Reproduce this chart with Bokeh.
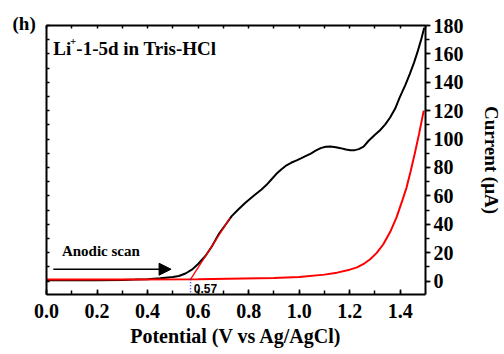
from bokeh.plotting import figure
from bokeh.models import (Range1d, LinearAxis, SingleIntervalTicker, Label, Arrow,
                          NormalHead, CustomJSTickFormatter, Title)
from bokeh.embed import file_html
from bokeh.resources import INLINE

# Anodic scan (black) : potential (V) vs current (uA)
black_x = [0.0, 0.1, 0.2, 0.3, 0.35, 0.4, 0.45, 0.5, 0.524, 0.55, 0.577, 0.6, 0.629, 0.655,
           0.681, 0.71, 0.733, 0.76, 0.786, 0.82, 0.851, 0.87, 0.89, 0.91, 0.929, 0.95,
           0.968, 0.99, 1.007, 1.025, 1.046, 1.065, 1.085, 1.105, 1.124, 1.145, 1.164,
           1.185, 1.203, 1.22, 1.236, 1.255, 1.275, 1.30, 1.32, 1.34, 1.36, 1.38, 1.398,
           1.42, 1.438, 1.455, 1.47, 1.482, 1.495]
black_y = [0.5, 0.5, 0.6, 0.8, 1.0, 1.3, 1.9, 2.8, 3.5, 5.3, 8.2, 12.0, 17.6, 24.5,
           32.8, 40.0, 45.7, 50.5, 55.0, 60.0, 64.5, 67.6, 71.5, 75.5, 78.6, 81.5,
           83.3, 85.0, 86.4, 88.0, 89.8, 91.8, 93.6, 94.6, 94.8, 94.3, 93.6,
           92.6, 92.2, 92.2, 92.9, 94.6, 98.8, 103.0, 106.2, 110.2, 115.2, 121.5, 129.4,
           138.0, 145.9, 154.0, 162.3, 169.5, 178.5]

# Background / second scan (red)
red_x = [0.0, 0.3, 0.6, 0.9, 1.0, 1.1, 1.15, 1.2, 1.229, 1.255, 1.281, 1.307, 1.333,
         1.36, 1.385, 1.405, 1.425, 1.44, 1.457, 1.475, 1.493]
red_y = [1.0, 1.1, 1.3, 2.2, 2.9, 4.5, 5.9, 8.0, 9.6, 12.0, 15.3, 19.8, 25.9,
         34.5, 44.7, 55.0, 65.8, 76.5, 89.4, 104.0, 120.0]

# Onset tangent
tangent_x = [0.57, 0.727]
tangent_y = [1.2, 44.6]
onset = 0.57

x_ticks = [0.0, 0.2, 0.4, 0.6, 0.8, 1.0, 1.2, 1.4]
y_ticks = [0, 20, 40, 60, 80, 100, 120, 140, 160, 180]

SERIF = "Liberation Serif"

p = figure(width=504, height=354, output_backend="svg", toolbar_location=None,
           x_range=Range1d(0, 1.5), y_range=Range1d(-9.5, 180),
           y_axis_location="right",
           min_border_left=46, min_border_right=76, min_border_top=25, min_border_bottom=60)
p.outline_line_color = None
p.xgrid.visible = False
p.ygrid.visible = False
p.background_fill_color = "white"
p.border_fill_color = "white"

# bottom axis
xa = p.xaxis[0]
xa.ticker = SingleIntervalTicker(interval=0.2, num_minor_ticks=2)
xa.axis_label = "Potential (V vs Ag/AgCl)"
xa.major_tick_in = 5
xa.major_tick_out = 0
xa.minor_tick_in = 4
xa.minor_tick_out = 0
xa.axis_line_width = 2
xa.major_tick_line_width = 1.5
xa.minor_tick_line_width = 1.5
xa.major_label_standoff = 9
xa.axis_label_standoff = 4
xa.major_label_text_font = SERIF
xa.major_label_text_font_style = "bold"
xa.major_label_text_font_size = "20px"
xa.major_label_text_color = "black"
xa.axis_label_text_font = SERIF
xa.axis_label_text_font_style = "bold"
xa.axis_label_text_font_size = "20px"
xa.axis_label_text_color = "black"
xa.major_label_overrides = {v: f"{v:.1f}" for v in x_ticks}

# right axis
ya = p.yaxis[0]
ya.ticker = SingleIntervalTicker(interval=20, num_minor_ticks=2)
ya.axis_label = "Current (μA)"
ya.major_tick_in = 0
ya.major_tick_out = 5
ya.minor_tick_in = 0
ya.minor_tick_out = 4
ya.axis_line_width = 2
ya.major_tick_line_width = 1.5
ya.minor_tick_line_width = 1.5
ya.major_label_standoff = 3
ya.axis_label_standoff = 14
ya.major_label_text_font = SERIF
ya.major_label_text_font_style = "bold"
ya.major_label_text_font_size = "20px"
ya.major_label_text_color = "black"
ya.axis_label_text_font = SERIF
ya.axis_label_text_font_style = "bold"
ya.axis_label_text_font_size = "19px"
ya.axis_label_text_color = "black"

blank = CustomJSTickFormatter(code="return '';")

# left frame axis (ticks only)
la = LinearAxis(ticker=SingleIntervalTicker(interval=10, num_minor_ticks=0), formatter=blank)
la.major_tick_in = 3
la.major_tick_out = 0
la.major_tick_line_width = 1.5
la.axis_line_width = 2
la.major_label_standoff = 0
p.add_layout(la, "left")

# top frame axis (ticks only)
ta = LinearAxis(ticker=SingleIntervalTicker(interval=0.1, num_minor_ticks=0), formatter=blank)
ta.major_tick_in = 3
ta.major_tick_out = 0
ta.major_tick_line_width = 1.5
ta.axis_line_width = 2
ta.major_label_standoff = 0
p.add_layout(ta, "above")

# panel tag "(h)" as a title to the left of the frame
p.add_layout(Title(text="(h)", align="left", offset=-34, standoff=-17,
                   vertical_align="bottom", text_font=SERIF, text_font_style="bold",
                   text_font_size="19px", text_color="black"), "above")

# curves
p.line(black_x, black_y, line_color="black", line_width=2)
p.line(red_x, red_y, line_color="#ff0000", line_width=2)
p.line(tangent_x, tangent_y, line_color="#ff0000", line_width=1.3)
p.line([onset, onset], [tangent_y[0], -9.5], line_color="#3030ff", line_width=1.5,
       line_dash="1 2")

# annotations
p.add_layout(Label(x=0.583, y=-5.6, text=f"{onset:.2f}", text_font="Liberation Sans",
                   text_font_style="bold", text_font_size="12px", text_color="black",
                   text_baseline="alphabetic"))
p.add_layout(Arrow(x_start=0.027, y_start=8.3, x_end=0.493, y_end=8.3, line_width=1.5,
                   line_color="black",
                   end=NormalHead(size=12, fill_color="black", line_color="black")))
p.add_layout(Label(x=0.061, y=21.2, text="Anodic scan", text_font=SERIF,
                   text_font_style="bold", text_font_size="15px", text_color="black",
                   text_baseline="alphabetic"))
p.add_layout(Label(x=0.027, y=164, text="Li", text_font=SERIF, text_font_style="bold",
                   text_font_size="19px", text_color="black", text_baseline="alphabetic"))
p.add_layout(Label(x=0.093, y=169, text="+", text_font=SERIF, text_font_style="bold",
                   text_font_size="11px", text_color="black", text_baseline="alphabetic"))
p.add_layout(Label(x=0.118, y=164, text="-1-5d in Tris-HCl", text_font=SERIF,
                   text_font_style="bold", text_font_size="19px", text_color="black",
                   text_baseline="alphabetic"))

open("out.html", "w").write(file_html(p, INLINE))
